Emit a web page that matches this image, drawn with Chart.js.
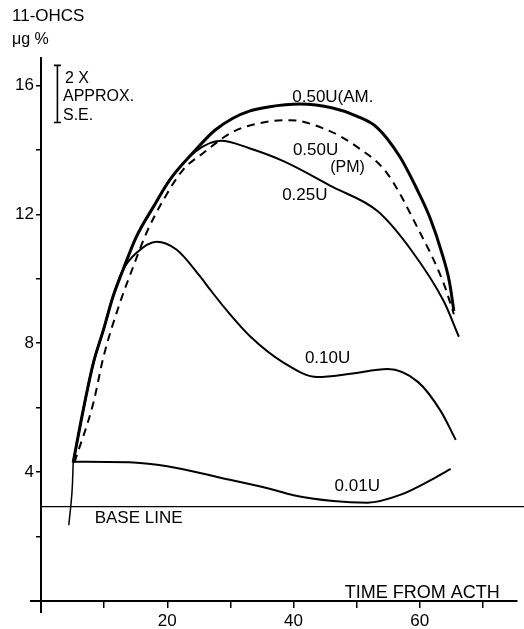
<!DOCTYPE html>
<html>
<head>
<meta charset="utf-8">
<script src="https://cdn.jsdelivr.net/npm/chart.js@4/dist/chart.umd.min.js"></script>
<style>
html,body{margin:0;padding:0;background:#fff;}
#c{display:block;}
</style>
</head>
<body>
<canvas id="c" width="524" height="629"></canvas>
<script>
// ---- data (minutes from ACTH, 11-OHCS µg %) ----
const am050 = [[5.1,4.3],[6.7,5.94],[8.3,7.39],[9.9,8.42],[11.4,9.44],[13,10.28],[15.1,11.3],[17.8,12.23],[20.4,13.07],[24.5,14.0],[27.5,14.6],[30.4,14.98],[33,15.2],[36,15.33],[41,15.42],[46.2,15.3],[50,15.05],[53.2,14.7],[56.8,13.8],[59.5,12.8],[61.6,11.9],[63.5,10.8],[64.7,9.9],[65.4,9.0]];
const pm050 = [[5.3,4.3],[8.3,6.15],[9.9,7.58],[12.5,9.25],[14.6,10.37],[16.7,11.42],[19.4,12.45],[22.5,13.38],[25.7,13.9],[30.4,14.56],[35.8,14.87],[39.4,14.92],[45.3,14.62],[50,14.1],[54.8,13.28],[59.6,11.6],[63.7,9.9],[65.4,8.9]];
const u025 = [[5.1,4.3],[6.7,5.94],[8.3,7.39],[9.9,8.42],[11.4,9.44],[13,10.28],[15.1,11.3],[17.8,12.23],[20.4,13.07],[24.5,13.95],[28.5,14.28],[33,14.05],[38.4,13.65],[46.2,12.85],[53.3,12.1],[58.6,10.9],[63.8,9.3],[66.2,8.2]];
const u010 = [[5.1,4.3],[6.7,5.94],[8.3,7.39],[9.9,8.42],[11.4,9.44],[13,10.28],[15.1,10.8],[18.3,11.15],[21.5,10.9],[25.2,10.07],[26.8,9.66],[29.5,9.0],[33.2,8.2],[38.4,7.4],[43.8,6.95],[49,7.05],[54.9,7.2],[59.7,6.8],[63.3,5.9],[65.7,5.0]];
const u001 = [[5.1,4.32],[14.6,4.3],[20,4.18],[27.9,3.85],[35.9,3.5],[40,3.28],[46.3,3.1],[51.7,3.05],[57,3.3],[62.2,3.8],[64.9,4.1]];
const stub = [[5.1,4.3],[4.9,3.35],[4.4,2.35]];
const baseLine = [[0,2.93],[76.5,2.93]];
const xTicks = [10,20,30,40,50,60,70];
const xLabels = [20,40,60];
const yTicks = [2,4,6,8,10,12,14,16];
const yLabels = [4,8,12,16];
const curveLabels = [
  {text:"0.50U(AM.", x:39.8, y:15.48, size:17},
  {text:"0.50U", x:39.9, y:13.85, size:17},
  {text:"(PM)", x:45.8, y:13.3, size:16},
  {text:"0.25U", x:38.2, y:12.45, size:17},
  {text:"0.10U", x:41.8, y:7.4, size:17},
  {text:"0.01U", x:46.5, y:3.4, size:17},
  {text:"BASE LINE", x:8.5, y:2.42, size:17},
  {text:"TIME FROM ACTH", x:48.1, y:0.1, size:18}
];

const pts = a => a.map(p => ({x:p[0], y:p[1]}));
const lineDs = (data, w, dash, mode) => ({
  data: pts(data), borderColor:'#000', borderWidth:w, borderDash:dash||[],
  pointRadius:0, tension:0.4, cubicInterpolationMode: mode||'monotone', fill:false, clip:false
});

Chart.defaults.font.family = "'Liberation Sans', Arial, sans-serif";
Chart.defaults.color = '#000';

const deco = {
  id:'deco',
  afterDraw(chart){
    const ctx = chart.ctx, xs = chart.scales.x, ys = chart.scales.y;
    const ca = chart.chartArea;
    ctx.save();
    ctx.strokeStyle = '#000'; ctx.fillStyle = '#000';
    ctx.lineWidth = 2;
    // axis extensions
    ctx.beginPath();
    ctx.moveTo(30, ca.bottom); ctx.lineTo(ca.left, ca.bottom);
    ctx.moveTo(ca.left, ca.bottom); ctx.lineTo(ca.left, ca.bottom + 12);
    ctx.stroke();
    // SE bar
    const bx = xs.getPixelForValue(2.6), t = ys.getPixelForValue(16.62), b = ys.getPixelForValue(14.85);
    ctx.lineWidth = 1.6;
    ctx.beginPath();
    ctx.moveTo(bx, t); ctx.lineTo(bx, b);
    ctx.moveTo(bx-3.5, t); ctx.lineTo(bx+3.5, t);
    ctx.moveTo(bx-3.5, b); ctx.lineTo(bx+3.5, b);
    ctx.stroke();
    ctx.textBaseline = 'alphabetic';
    ctx.textAlign = 'left';
    ctx.font = "16px 'Liberation Sans', Arial, sans-serif";
    ctx.fillText("2 X", 65, 83);
    ctx.fillText("APPROX.", 63, 101);
    ctx.fillText("S.E.", 63, 120);
    // y title
    ctx.font = "17px 'Liberation Sans', Arial, sans-serif";
    ctx.fillText("11-OHCS", 12, 21);
    ctx.font = "16px 'Liberation Sans', Arial, sans-serif";
    ctx.fillText("\u03BCg %", 12, 44);
    // curve labels
    curveLabels.forEach(l => {
      ctx.font = l.size + "px 'Liberation Sans', Arial, sans-serif";
      ctx.fillText(l.text, xs.getPixelForValue(l.x), ys.getPixelForValue(l.y));
    });
    ctx.restore();
  }
};

new Chart(document.getElementById('c'), {
  type:'line',
  data:{ datasets:[
    lineDs(am050, 3),
    lineDs(pm050, 2, [8,6]),
    lineDs(u025, 2),
    lineDs(u010, 2),
    lineDs(u001, 2),
    lineDs(stub, 1.5, [], 'default'),
    lineDs(baseLine, 1.2)
  ]},
  options:{
    responsive:false, animation:false,
    layout:{padding:{top:58, right:7, left:0, bottom:0}},
    plugins:{legend:{display:false}, tooltip:{enabled:false}},
    scales:{
      x:{ type:'linear', min:0, max:75.4,
        afterFit(s){ s.height = 28; },
        afterBuildTicks(s){ s.ticks = xTicks.map(v=>({value:v})); },
        grid:{drawOnChartArea:false, drawTicks:true, tickLength:7, color:'#000', lineWidth:1.5},
        border:{display:true, color:'#000', width:2},
        ticks:{ padding:3, font:{size:17}, maxRotation:0, autoSkip:false,
          callback:v => xLabels.includes(v) ? String(v) : '' }
      },
      y:{ type:'linear', min:0, max:16.85,
        afterFit(s){ s.width = 41; },
        afterBuildTicks(s){ s.ticks = yTicks.map(v=>({value:v})); },
        grid:{drawOnChartArea:false, drawTicks:true, tickLength:5, color:'#000', lineWidth:1.5},
        border:{display:true, color:'#000', width:2},
        ticks:{ padding:2, font:{size:17}, autoSkip:false,
          callback:v => yLabels.includes(v) ? String(v) : '' }
      }
    }
  },
  plugins:[deco]
});
</script>
</body>
</html>
